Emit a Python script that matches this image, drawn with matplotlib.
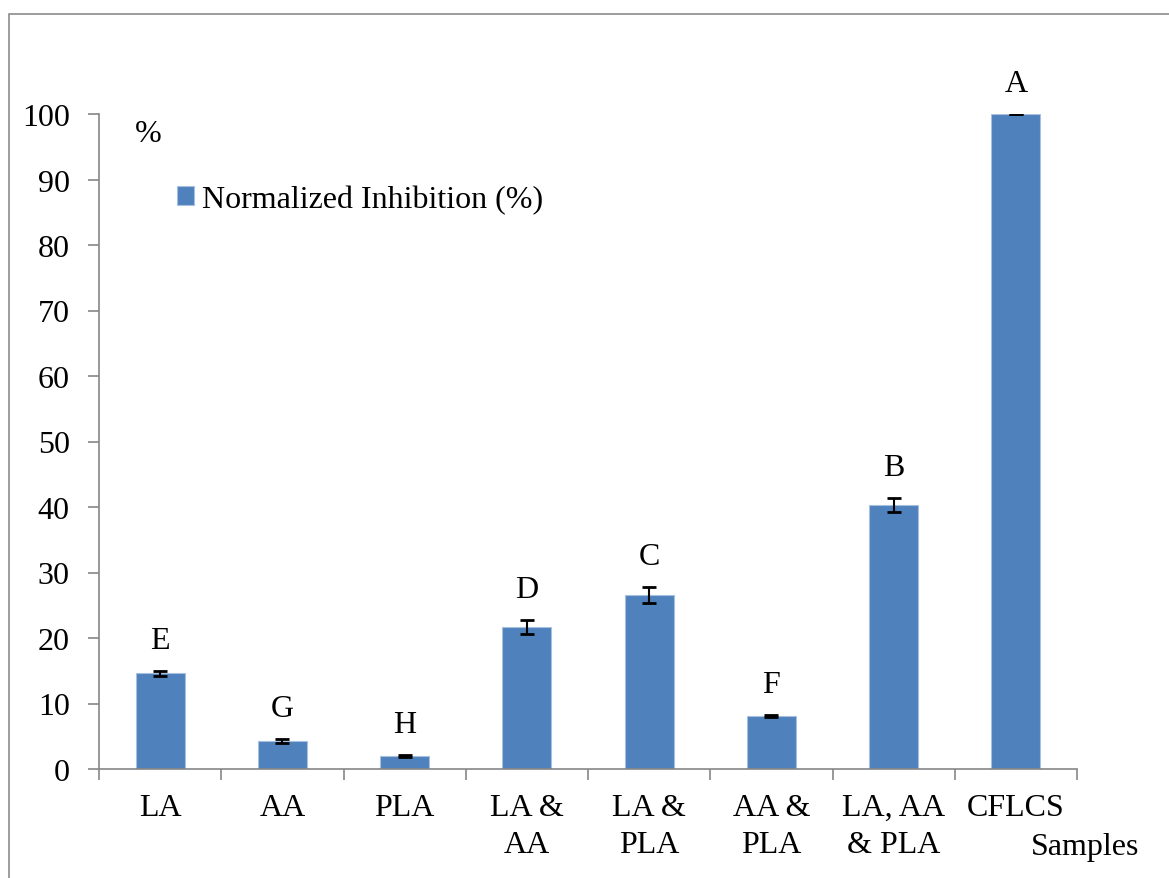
import matplotlib
matplotlib.use("Agg")
import matplotlib.pyplot as plt
from matplotlib.patches import Rectangle

categories = ["LA", "AA", "PLA", "LA &\nAA", "LA &\nPLA", "AA &\nPLA", "LA, AA\n& PLA", "CFLCS"]
values = [14.6, 4.3, 2.0, 21.7, 26.6, 8.1, 40.3, 100.0]
errors = [0.4, 0.3, 0.2, 1.1, 1.2, 0.1, 1.0, 0.0]
letters = ["E", "G", "H", "D", "C", "F", "B", "A"]
series_name = "Normalized Inhibition (%)"
yticks = list(range(0, 101, 10))

plt.rcParams['font.family'] = ['Liberation Serif', 'DejaVu Serif']
FS = 23

W, H = 1169, 879
fig = plt.figure(figsize=(W / 100, H / 100), dpi=100)

# outer frame
fig.patches.append(Rectangle((9 / W, -0.1), 1.2, 1 - 15 / H + 0.1, transform=fig.transFigure,
                             fill=False, edgecolor="#8c8c8c", linewidth=1.2))

ax = fig.add_axes([99 / W, 1 - 770 / H, (1077 - 99) / W, (770 - 115) / H])
n = len(categories)
x = list(range(n))
ax.bar(x, values, width=0.4, color="#4F81BD", edgecolor="#A7C0E0", linewidth=0.8,
       label=series_name, zorder=2)
ax.errorbar(x, values, yerr=errors, fmt="none", ecolor="black", elinewidth=1.5,
            capsize=5, capthick=2, zorder=3)

for xi, v, e, t in zip(x, values, errors, letters):
    ax.annotate(t, (xi, v + e), xytext=(0, 22), textcoords="offset points",
                ha="center", va="center", fontsize=FS)

ax.set_xlim(-0.5, n - 0.5)
ax.set_ylim(0, 100)
ax.set_yticks(yticks)
ax.set_yticklabels([str(t) for t in yticks], fontsize=FS)
ax.set_xticks(x)
ax.set_xticklabels(categories, fontsize=FS, linespacing=1.38, va="top")
ax.tick_params(axis="x", length=0, pad=17)
ax.set_xticks([i - 0.5 for i in range(n + 1)], minor=True)
ax.tick_params(axis="x", which="minor", length=8, color="#868686", width=1.2)
ax.tick_params(axis="y", length=8, color="#868686", width=1.2, pad=13)

for s in ["top", "right"]:
    ax.spines[s].set_visible(False)
for s in ["left", "bottom"]:
    ax.spines[s].set_color("#868686")
    ax.spines[s].set_linewidth(1.2)

fig.text(148 / W, 1 - 135 / H, "%", fontsize=FS, ha="center", va="center")
fig.text(1085 / W, 1 - 848 / H, "Samples", fontsize=FS, ha="center", va="center")

leg = ax.legend(loc="upper left", bbox_to_anchor=(65 / (1077 - 99), 1 - (173 - 115) / 655),
                frameon=False, fontsize=FS, handlelength=0.55, handleheight=0.55,
                handletextpad=0.25, borderaxespad=0)

fig.savefig("out.png", dpi=100)
